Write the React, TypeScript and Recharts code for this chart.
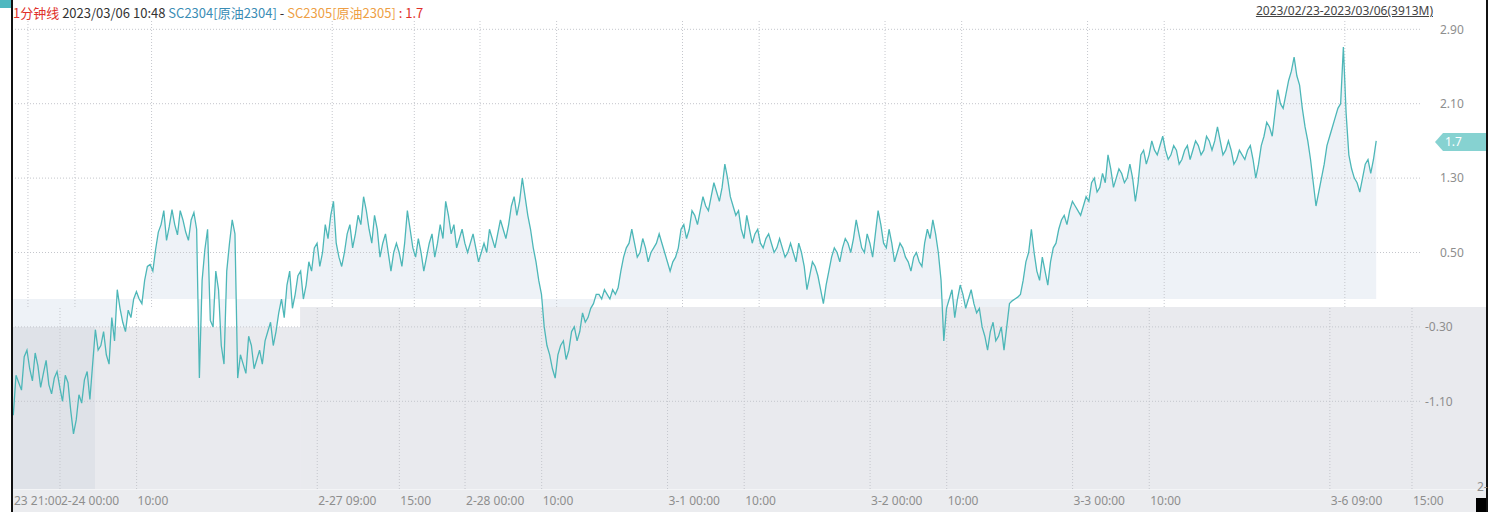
import React from 'react';
import { ComposedChart, Line, Area, XAxis, YAxis, ReferenceArea, ReferenceLine } from 'recharts';

// minute index 0 = 2023-02-23 21:00 (trading minutes only)
const START_MINUTE = 52;
const STEP_MINUTES = 7.5;

// SC2304 - SC2305 spread
const spread = [
  -1.25, -0.82, -0.9, -0.98, -0.62, -0.55, -0.75, -0.88, -0.58, -0.72, -0.95, -0.8, -0.66, -0.92, -1.02, -0.85, -0.78, -0.95, -1.1, -0.82,
  -0.9, -1.2, -1.45, -1.3, -1.03, -1.12, -0.87, -0.78, -1.08, -0.7, -0.33, -0.55, -0.5, -0.35, -0.6, -0.7, -0.2, -0.45, 0.1, -0.1,
  -0.25, -0.35, -0.12, -0.2, 0.0, 0.08, 0.0, -0.05, 0.2, 0.35, 0.37, 0.3, 0.53, 0.72, 0.8, 0.95, 0.63, 0.78, 0.96, 0.8,
  0.69, 0.95, 0.85, 0.72, 0.63, 0.85, 0.93, 0.75, -0.85, 0.2, 0.53, 0.75, -0.23, -0.3, 0.3, 0.1, -0.5, -0.7, 0.3, 0.6,
  0.85, 0.7, -0.85, -0.6, -0.7, -0.8, -0.4, -0.5, -0.75, -0.65, -0.55, -0.7, -0.45, -0.35, -0.25, -0.5, -0.35, -0.15, 0.0, -0.2,
  0.15, 0.3, -0.1, 0.05, 0.25, 0.3, 0.0, 0.15, 0.4, 0.3, 0.55, 0.6, 0.35, 0.5, 0.8, 0.65, 0.9, 1.05, 0.6, 0.45,
  0.35, 0.5, 0.7, 0.8, 0.55, 0.7, 0.9, 0.8, 1.1, 0.95, 0.75, 0.6, 0.9, 0.75, 0.45, 0.6, 0.7, 0.5, 0.3, 0.5,
  0.6, 0.5, 0.35, 0.6, 0.95, 0.75, 0.55, 0.45, 0.65, 0.5, 0.3, 0.45, 0.6, 0.7, 0.45, 0.6, 0.8, 0.65, 1.05, 0.9,
  0.7, 0.8, 0.55, 0.65, 0.75, 0.6, 0.5, 0.6, 0.7, 0.55, 0.4, 0.5, 0.6, 0.5, 0.75, 0.65, 0.55, 0.7, 0.85, 0.75,
  0.65, 0.8, 1.0, 1.1, 0.9, 1.05, 1.3, 1.1, 0.9, 0.75, 0.55, 0.4, 0.2, 0.05, -0.3, -0.5, -0.6, -0.75, -0.85, -0.6,
  -0.5, -0.45, -0.65, -0.55, -0.35, -0.3, -0.45, -0.35, -0.15, -0.25, -0.2, -0.1, -0.05, 0.05, 0.05, 0.0, 0.1, 0.05, 0.0, 0.1,
  0.05, 0.12, 0.3, 0.45, 0.55, 0.6, 0.75, 0.6, 0.45, 0.5, 0.65, 0.55, 0.4, 0.5, 0.55, 0.6, 0.7, 0.6, 0.5, 0.4,
  0.3, 0.4, 0.45, 0.55, 0.75, 0.8, 0.65, 0.75, 0.95, 0.9, 0.8, 0.95, 1.1, 1.0, 0.95, 1.1, 1.25, 1.15, 1.05, 1.2,
  1.45, 1.3, 1.1, 1.0, 0.9, 0.95, 0.75, 0.65, 0.9, 0.75, 0.6, 0.7, 0.75, 0.6, 0.55, 0.65, 0.7, 0.6, 0.5, 0.55,
  0.65, 0.55, 0.45, 0.5, 0.6, 0.5, 0.4, 0.6, 0.5, 0.35, 0.1, 0.25, 0.4, 0.35, 0.25, 0.1, -0.05, 0.15, 0.3, 0.45,
  0.55, 0.5, 0.4, 0.55, 0.65, 0.6, 0.5, 0.65, 0.85, 0.7, 0.55, 0.5, 0.7, 0.6, 0.45, 0.7, 0.95, 0.8, 0.6, 0.55,
  0.75, 0.6, 0.4, 0.5, 0.6, 0.55, 0.45, 0.4, 0.3, 0.45, 0.5, 0.4, 0.35, 0.6, 0.75, 0.65, 0.85, 0.7, 0.5, 0.2,
  -0.45, -0.1, 0.0, 0.1, -0.2, 0.0, 0.15, 0.05, -0.1, 0.0, 0.1, -0.05, -0.15, -0.1, -0.3, -0.4, -0.55, -0.35, -0.25, -0.45,
  -0.4, -0.3, -0.55, -0.3, -0.05, -0.02, 0.0, 0.02, 0.05, 0.2, 0.4, 0.5, 0.75, 0.5, 0.3, 0.2, 0.45, 0.3, 0.15, 0.4,
  0.55, 0.6, 0.75, 0.85, 0.9, 0.8, 0.95, 1.05, 1.0, 0.95, 0.9, 1.0, 1.1, 1.05, 1.25, 1.3, 1.15, 1.2, 1.35, 1.25,
  1.55, 1.4, 1.2, 1.3, 1.4, 1.35, 1.25, 1.3, 1.45, 1.3, 1.05, 1.25, 1.55, 1.6, 1.45, 1.55, 1.7, 1.6, 1.55, 1.65,
  1.75, 1.6, 1.5, 1.55, 1.65, 1.6, 1.45, 1.5, 1.6, 1.65, 1.5, 1.6, 1.7, 1.65, 1.55, 1.6, 1.75, 1.7, 1.6, 1.7,
  1.85, 1.7, 1.55, 1.6, 1.7, 1.6, 1.45, 1.5, 1.6, 1.55, 1.5, 1.6, 1.65, 1.5, 1.3, 1.45, 1.65, 1.75, 1.9, 1.85,
  1.75, 2.0, 2.25, 2.1, 2.05, 2.2, 2.35, 2.45, 2.6, 2.4, 2.3, 2.05, 1.85, 1.7, 1.5, 1.25, 1.0, 1.15, 1.3, 1.45,
  1.65, 1.75, 1.85, 1.95, 2.05, 2.1, 2.71, 2.0, 1.55, 1.4, 1.3, 1.25, 1.15, 1.3, 1.45, 1.5, 1.35, 1.5, 1.7,
];

const tickMinutes = [51.25, 180, 390, 885, 1110, 1290, 1500, 1845, 2055, 2400, 2610, 2955, 3165, 3660, 3885];
const tickLabels = ['23 21:00', '2-24 00:00', '10:00', '2-27 09:00', '15:00', '2-28 00:00', '10:00', '3-1 00:00', '10:00', '3-2 00:00', '10:00', '3-3 00:00', '10:00', '3-6 09:00', '15:00'];
const yTicks = [2.9, 2.1, 1.3, 0.5, -0.3, -1.1];
const lastValue = 1.7;

const X_DOMAIN: [number, number] = [51.25, 3907];
const Y_DOMAIN: [number, number] = [-2.043, 3.0];
const GREY_TOP = -0.086;
const UPPER_SHIFT = 41;

const data = spread.map((v, i) => ({ t: START_MINUTE + i * STEP_MINUTES, v }));
const labelFor = (t: number) => {
  const idx = tickMinutes.indexOf(t);
  return idx >= 0 ? tickLabels[idx] : '';
};

const FONT = '"Noto Sans", "Noto Sans CJK SC", sans-serif';
const GRID = '#c4c6cc';

const XTick = (props: any) => {
  const { x, y, payload } = props;
  return (
    <text x={x + 1} y={y + 16} fontSize={12} fill="#8e8e8e" fontFamily={FONT} textAnchor="start">
      {labelFor(payload.value)}
    </text>
  );
};

const YTick = (props: any) => {
  const { x, y, payload } = props;
  const v = payload.value as number;
  return (
    <text x={x + (v > 0 ? 20 : 5)} y={y} dy="0.35em" fontSize={12} fill="#8e8e8e" fontFamily={FONT} textAnchor="start">
      {v.toFixed(2)}
    </text>
  );
};

const PriceTag = (props: any) => {
  const { viewBox } = props;
  if (!viewBox) return null;
  const x0 = viewBox.x + viewBox.width + 15;
  const y0 = viewBox.y + 1;
  const h = 9;
  const pts = `${x0},${y0} ${x0 + 8},${y0 - h} ${x0 + 52},${y0 - h} ${x0 + 52},${y0 + h} ${x0 + 8},${y0 + h}`;
  return (
    <g>
      <polygon points={pts} fill="#86d2d1" />
      <text x={x0 + 10} y={y0} dy="0.35em" fontSize={12} fill="#ffffff" fontFamily={FONT}>
        {String(lastValue)}
      </text>
    </g>
  );
};

export default function App() {
  return (
    <div style={{ position: 'absolute', left: 0, top: 0, width: 1496, height: 512, background: '#ffffff', overflow: 'hidden' }}>
      {/* axis-area backgrounds */}
      <div style={{ position: 'absolute', left: 1420, top: 307, width: 67, height: 205, background: '#e9eaee' }} />
      <div style={{ position: 'absolute', left: 13, top: 489, width: 1474, height: 23, background: '#ebecef', borderTop: '1px solid #f3f4f6' }} />
      <div style={{ position: 'absolute', left: 0, top: 0 }}>
        <ComposedChart width={1496} height={512} data={data} margin={{ top: 20, right: 0, bottom: 0, left: 13 }}>
          <XAxis
            dataKey="t"
            type="number"
            domain={X_DOMAIN}
            ticks={tickMinutes}
            interval={0}
            tick={<XTick />}
            tickLine={false}
            axisLine={false}
            tickSize={0}
            tickMargin={0}
            height={23}
            allowDataOverflow
          />
          <YAxis
            orientation="right"
            type="number"
            domain={Y_DOMAIN}
            ticks={yTicks}
            interval={0}
            tick={<YTick />}
            tickLine={false}
            axisLine={false}
            tickSize={0}
            tickMargin={0}
            width={76}
            allowDataOverflow
          />
          <Area
            type="linear"
            dataKey="v"
            baseValue={0}
            stroke="none"
            fill="#eef2f7"
            fillOpacity={1}
            isAnimationActive={false}
          />
          <ReferenceArea x1={838} x2={X_DOMAIN[1]} y1={Y_DOMAIN[0]} y2={GREY_TOP} fill="#e9eaee" fillOpacity={1} stroke="none" />
          <ReferenceArea x1={X_DOMAIN[0]} x2={838} y1={Y_DOMAIN[0]} y2={-0.3} fill="#e9eaee" fillOpacity={1} stroke="none" />
          <ReferenceArea x1={X_DOMAIN[0]} x2={276} y1={Y_DOMAIN[0]} y2={-0.3} fill="#dfe2e8" fillOpacity={1} stroke="none" />
          {yTicks.map((v) => (
            <ReferenceLine key={'h' + v} y={v} stroke={GRID} strokeDasharray="1 2" />
          ))}
          {tickMinutes.slice(1).map((t) => (
            <ReferenceLine
              key={'vl' + t}
              segment={[{ x: t, y: Y_DOMAIN[0] }, { x: t, y: GREY_TOP }]}
              stroke={GRID}
              strokeDasharray="1 2"
            />
          ))}
          {tickMinutes.map((t) => (
            <ReferenceLine
              key={'vu' + t}
              segment={[{ x: t + UPPER_SHIFT, y: GREY_TOP }, { x: t + UPPER_SHIFT, y: Y_DOMAIN[1] }]}
              stroke={GRID}
              strokeDasharray="1 2"
            />
          ))}
          <Line
            type="linear"
            dataKey="v"
            stroke="#4db7b8"
            strokeWidth={1.3}
            dot={false}
            isAnimationActive={false}
          />
          <ReferenceLine y={lastValue} stroke="none" label={<PriceTag />} />
        </ComposedChart>
      </div>
      {/* header */}
      <div style={{ position: 'absolute', left: 13, top: 4, fontFamily: '"Noto Sans CJK SC", "Noto Sans", sans-serif', fontSize: 13, lineHeight: '18px', whiteSpace: 'nowrap', color: '#333' }}>
        <span style={{ color: '#e0302a' }}>1分钟线</span>
        <span> 2023/03/06 10:48 </span>
        <span style={{ color: '#3b8db5' }}>SC2304[原油2304]</span>
        <span> - </span>
        <span style={{ color: '#ee9f45' }}>SC2305[原油2305]</span>
        <span style={{ color: '#e0302a' }}> : 1.7</span>
      </div>
      <div style={{ position: 'absolute', right: 63, top: 3, fontFamily: FONT, fontSize: 12, lineHeight: '16px', color: '#444', textDecoration: 'underline', whiteSpace: 'nowrap' }}>
        2023/02/23-2023/03/06(3913M)
      </div>
      {/* frame borders */}
      <div style={{ position: 'absolute', left: 11, top: 0, width: 2, height: 512, background: '#111' }} />
      <div style={{ position: 'absolute', left: 1486, top: 0, width: 2, height: 512, background: '#111' }} />
      <div style={{ position: 'absolute', left: 0, top: 0, width: 11, height: 8, background: '#4fb8c0' }} />
      <div style={{ position: 'absolute', left: 1476, top: 498, width: 10, height: 14, background: '#000' }} />
      <div style={{ position: 'absolute', left: 1477, top: 478, fontFamily: FONT, fontSize: 12, color: '#8e8e8e' }}>2-</div>
    </div>
  );
}
